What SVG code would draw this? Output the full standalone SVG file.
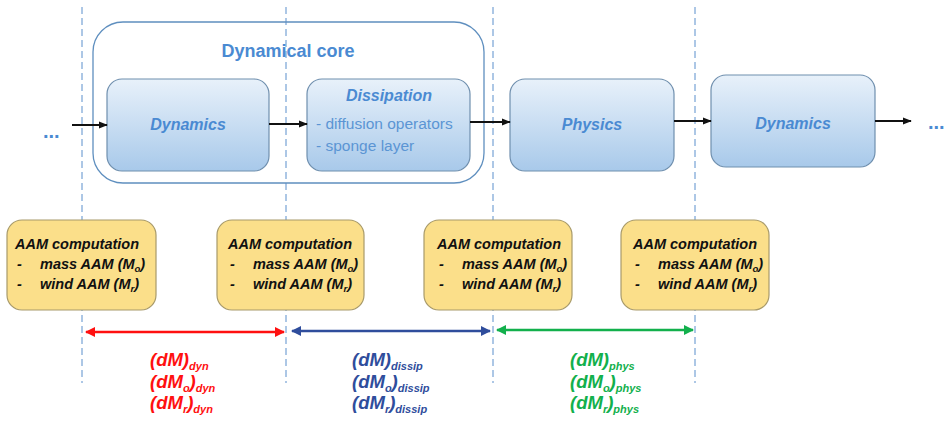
<svg xmlns="http://www.w3.org/2000/svg" width="951" height="421" viewBox="0 0 951 421">
<defs>
<linearGradient id="blueGrad" x1="0" y1="0" x2="0" y2="1">
<stop offset="0" stop-color="#e8f1fa"/>
<stop offset="1" stop-color="#a8c9ea"/>
</linearGradient>
<marker id="ahBlack" viewBox="0 0 10 10" refX="9" refY="5" markerWidth="5" markerHeight="5" orient="auto"><path d="M0,1 L10,5 L0,9 z" fill="#111"/></marker>
<marker id="ahRed" viewBox="0 0 10 10" refX="9" refY="5" markerWidth="4" markerHeight="4" orient="auto-start-reverse"><path d="M0,0 L10,5 L0,10 z" fill="#ff1010"/></marker>
<marker id="ahBlue" viewBox="0 0 10 10" refX="9" refY="5" markerWidth="4" markerHeight="4" orient="auto-start-reverse"><path d="M0,0 L10,5 L0,10 z" fill="#2f4d9c"/></marker>
<marker id="ahGreen" viewBox="0 0 10 10" refX="9" refY="5" markerWidth="4" markerHeight="4" orient="auto-start-reverse"><path d="M0,0 L10,5 L0,10 z" fill="#12b04c"/></marker>
</defs>
<style>
.dash{stroke:#5b8fcc;stroke-width:1;stroke-dasharray:7 4;fill:none}
.blk{fill:url(#blueGrad);stroke:#6f8fae;stroke-width:1.2}
.core{fill:none;stroke:#5f8fbf;stroke-width:1.3}
.aam{fill:#fbdf8a;stroke:#a89a6a;stroke-width:1.2}
.bt{font-family:"Liberation Sans",Arial,sans-serif;font-weight:bold;font-style:italic;fill:#4a8ad2;font-size:16px}
.ct{font-family:"Liberation Sans",Arial,sans-serif;font-weight:bold;fill:#4a8ad2;font-size:18px}
.dt{font-family:"Liberation Sans",Arial,sans-serif;fill:#5b95d4;font-size:15.5px}
.at{font-family:"Liberation Sans",Arial,sans-serif;font-weight:bold;font-style:italic;fill:#111;font-size:14.5px}
.lt{font-family:"Liberation Sans",Arial,sans-serif;font-weight:bold;font-style:italic;font-size:18.5px}
.dots{font-family:"Liberation Sans",Arial,sans-serif;font-weight:bold;fill:#4a8ad2;font-size:20px}
.flow{stroke:#111;stroke-width:1.8;fill:none;marker-end:url(#ahBlack)}
</style>
<g id="guides">
<line class="dash" x1="82" y1="7" x2="82" y2="383"/>
<line class="dash" x1="286" y1="7" x2="286" y2="383"/>
<line class="dash" x1="493" y1="7" x2="493" y2="383"/>
<line class="dash" x1="695" y1="7" x2="695" y2="383"/>
</g>
<g id="core">
<rect class="core" x="93" y="22" width="391" height="161" rx="30"/>
<text class="ct" x="288" y="57" text-anchor="middle">Dynamical core</text>
</g>
<g id="dynamics1">
<rect class="blk" x="107" y="79" width="162" height="92" rx="15"/>
<text class="bt" x="188" y="130" text-anchor="middle">Dynamics</text>
</g>
<g id="dissipation">
<rect class="blk" x="307" y="79" width="163" height="92" rx="15"/>
<text class="bt" x="389" y="101" text-anchor="middle">Dissipation</text>
<text class="dt" x="316" y="129">- diffusion operators</text>
<text class="dt" x="316" y="151">- sponge layer</text>
</g>
<g id="physics">
<rect class="blk" x="510" y="79" width="164" height="92" rx="15"/>
<text class="bt" x="592" y="130" text-anchor="middle">Physics</text>
</g>
<g id="dynamics2">
<rect class="blk" x="711" y="75" width="164" height="92" rx="15"/>
<text class="bt" x="793" y="129" text-anchor="middle">Dynamics</text>
</g>
<g id="ellipsisL"><text class="dots" x="43" y="138">...</text></g>
<g id="ellipsisR"><text class="dots" x="928" y="129">...</text></g>
<g id="aam1">
<rect class="aam" x="7" y="220" width="149" height="90" rx="15"/>
<text class="at" x="15" y="249">AAM computation</text>
<text class="at" x="17" y="269">-</text><text class="at" x="40" y="269">mass AAM (M<tspan font-size="9.5" dy="3">o</tspan><tspan dy="-3">)</tspan></text>
<text class="at" x="17" y="289">-</text><text class="at" x="40" y="289">wind AAM (M<tspan font-size="9.5" dy="3">r</tspan><tspan dy="-3">)</tspan></text>
</g>
<g id="aam2">
<rect class="aam" x="217" y="220" width="147" height="90" rx="15"/>
<text class="at" x="228" y="249">AAM computation</text>
<text class="at" x="230" y="269">-</text><text class="at" x="253" y="269">mass AAM (M<tspan font-size="9.5" dy="3">o</tspan><tspan dy="-3">)</tspan></text>
<text class="at" x="230" y="289">-</text><text class="at" x="253" y="289">wind AAM (M<tspan font-size="9.5" dy="3">r</tspan><tspan dy="-3">)</tspan></text>
</g>
<g id="aam3">
<rect class="aam" x="424" y="220" width="148" height="90" rx="15"/>
<text class="at" x="437" y="249">AAM computation</text>
<text class="at" x="439" y="269">-</text><text class="at" x="462" y="269">mass AAM (M<tspan font-size="9.5" dy="3">o</tspan><tspan dy="-3">)</tspan></text>
<text class="at" x="439" y="289">-</text><text class="at" x="462" y="289">wind AAM (M<tspan font-size="9.5" dy="3">r</tspan><tspan dy="-3">)</tspan></text>
</g>
<g id="aam4">
<rect class="aam" x="621" y="220" width="148" height="90" rx="15"/>
<text class="at" x="633" y="249">AAM computation</text>
<text class="at" x="635" y="269">-</text><text class="at" x="658" y="269">mass AAM (M<tspan font-size="9.5" dy="3">o</tspan><tspan dy="-3">)</tspan></text>
<text class="at" x="635" y="289">-</text><text class="at" x="658" y="289">wind AAM (M<tspan font-size="9.5" dy="3">r</tspan><tspan dy="-3">)</tspan></text>
</g>
<g id="connectors">
<line class="flow" x1="72" y1="125" x2="107" y2="125"/>
<line class="flow" x1="269" y1="124" x2="307" y2="124"/>
<line class="flow" x1="470" y1="122" x2="510" y2="122"/>
<line class="flow" x1="674" y1="121" x2="711" y2="121"/>
<line class="flow" x1="875" y1="121" x2="911" y2="121"/>
<line x1="86" y1="332" x2="284" y2="332" stroke="#ff1010" stroke-width="2.5" marker-start="url(#ahRed)" marker-end="url(#ahRed)"/>
<line x1="292" y1="331" x2="490" y2="331" stroke="#2f4d9c" stroke-width="2.5" marker-start="url(#ahBlue)" marker-end="url(#ahBlue)"/>
<line x1="497" y1="330" x2="693" y2="330" stroke="#12b04c" stroke-width="2.5" marker-start="url(#ahGreen)" marker-end="url(#ahGreen)"/>
</g>
<g id="labelDyn" fill="#ff1010">
<text class="lt" x="150" y="366">(dM)<tspan font-size="11" dy="4">dyn</tspan></text>
<text class="lt" x="150" y="388">(dM<tspan font-size="11" dy="4">o</tspan><tspan dy="-4">)</tspan><tspan font-size="11" dy="4">dyn</tspan></text>
<text class="lt" x="150" y="409">(dM<tspan font-size="11" dy="4">r</tspan><tspan dy="-4">)</tspan><tspan font-size="11" dy="4">dyn</tspan></text>
</g>
<g id="labelDissip" fill="#2f4d9c">
<text class="lt" x="352" y="366">(dM)<tspan font-size="11" dy="4">dissip</tspan></text>
<text class="lt" x="352" y="388">(dM<tspan font-size="11" dy="4">o</tspan><tspan dy="-4">)</tspan><tspan font-size="11" dy="4">dissip</tspan></text>
<text class="lt" x="352" y="409">(dM<tspan font-size="11" dy="4">r</tspan><tspan dy="-4">)</tspan><tspan font-size="11" dy="4">dissip</tspan></text>
</g>
<g id="labelPhys" fill="#12b04c">
<text class="lt" x="570" y="366">(dM)<tspan font-size="11" dy="4">phys</tspan></text>
<text class="lt" x="570" y="388">(dM<tspan font-size="11" dy="4">o</tspan><tspan dy="-4">)</tspan><tspan font-size="11" dy="4">phys</tspan></text>
<text class="lt" x="570" y="409">(dM<tspan font-size="11" dy="4">r</tspan><tspan dy="-4">)</tspan><tspan font-size="11" dy="4">phys</tspan></text>
</g>
</svg>
